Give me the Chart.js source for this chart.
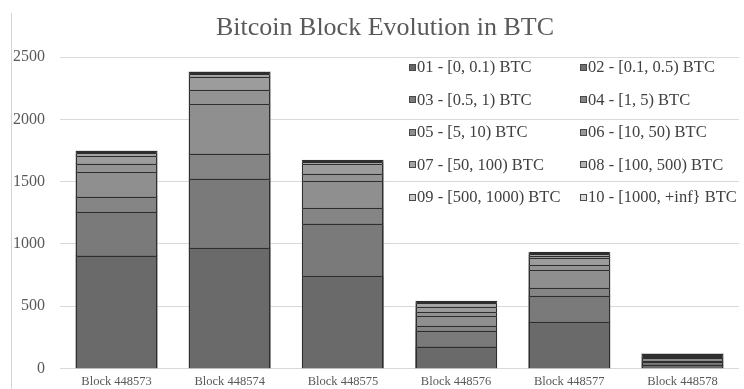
<!DOCTYPE html>
<html>
<head>
<meta charset="utf-8">
<script src="https://cdn.jsdelivr.net/npm/chart.js@4/dist/chart.umd.min.js"></script>
<style>
  html, body { margin: 0; padding: 0; background: #ffffff; }
  #wrap { position: relative; width: 744px; height: 389px; overflow: hidden; }
  #frame { position: absolute; left: 11px; top: 13px; bottom: 0; border-left: 1px solid #d4d4d4; }
  #title {
    position: absolute; left: 26px; right: 0; top: 11px;
    text-align: center; font-family: "Liberation Serif", "Times New Roman", serif;
    font-size: 26px; color: #595959; line-height: 32px;
  }
  #legend {
    position: absolute; left: 409px; top: 51px;
    display: grid; grid-template-columns: 171px 170px; grid-auto-rows: 32.5px;
    font-family: "Liberation Serif", "Times New Roman", serif; font-size: 16.5px; color: #404040;
  }
  .item { display: flex; align-items: center; white-space: nowrap; }
  .box { width: 5px; height: 5px; border: 1px solid #4a4a4a; margin-right: 1px; flex: none; }
  canvas { position: absolute; left: 0; top: 0; }
</style>
</head>
<body>
<div id="wrap">
  <canvas id="chart" width="744" height="389"></canvas>
  <div id="frame"></div>
  <div id="title">Bitcoin Block Evolution in BTC</div>
  <div id="legend"></div>
</div>
<script>
// Blocks on the x axis
const blocks = ['Block 448573', 'Block 448574', 'Block 448575', 'Block 448576', 'Block 448577', 'Block 448578'];

// Output value ranges (one stacked series each)
const ranges = [
  '01 - [0, 0.1) BTC', '02 - [0.1, 0.5) BTC', '03 - [0.5, 1) BTC', '04 - [1, 5) BTC',
  '05 - [5, 10) BTC', '06 - [10, 50) BTC', '07 - [50, 100) BTC', '08 - [100, 500) BTC',
  '09 - [500, 1000) BTC', '10 - [1000, +inf} BTC'
];

// Values per range, one entry per block
const r01 = [904, 965, 741, 175, 371, 28];
const r02 = [353, 557, 420, 126, 209, 22];
const r03 = [121, 203, 126, 40, 67, 9];
const r04 = [198, 397, 217, 83, 142, 22];
const r05 = [69, 113, 58, 27, 42, 8];
const r06 = [62, 104, 78, 45, 59, 14];
const r07 = [22, 26, 16, 28, 14, 5];
const r08 = [10, 10, 9, 10, 18, 6];
const r09 = [4, 5, 5, 4, 8, 3];
const r10 = [2, 2, 2, 2, 3, 1];

// Y axis ticks
const yTicks = [0, 500, 1000, 1500, 2000, 2500];

const seriesValues = [r01, r02, r03, r04, r05, r06, r07, r08, r09, r10];
const shades = ['#6a6a6a', '#7a7a7a', '#858585', '#8f8f8f', '#939393', '#9c9c9c', '#a5a5a5', '#b0b0b0', '#c8c8c8', '#d8d8d8'];
const swatches = ['#666666', '#717171', '#7b7b7b', '#858585', '#8f8f8f', '#999999', '#a3a3a3', '#b3b3b3', '#cacaca', '#dcdcdc'];

const serif = '"Liberation Serif", "Times New Roman", serif';

const datasets = ranges.map((label, i) => ({
  label: label,
  data: seriesValues[i],
  backgroundColor: shades[i],
  borderWidth: 0,
  inflateAmount: 0.5,
  categoryPercentage: 1.0,
  barPercentage: 0.716
}));

// Crisp dark outlines on every stacked segment (top edge and sides)
const segmentOutlines = {
  id: 'segmentOutlines',
  afterDatasetsDraw(chart) {
    const ctx = chart.ctx;
    ctx.save();
    ctx.strokeStyle = '#2e2e2e';
    ctx.lineWidth = 1;
    chart.data.datasets.forEach((ds, i) => {
      const meta = chart.getDatasetMeta(i);
      meta.data.forEach((bar) => {
        const p = bar.getProps(['x', 'y', 'base', 'width'], true);
        const l = Math.round(p.x - p.width / 2) + 0.5;
        const r = Math.round(p.x + p.width / 2) - 0.5;
        const t = Math.round(p.y) + 0.5;
        const b = Math.round(p.base);
        ctx.beginPath();
        ctx.moveTo(l, b);
        ctx.lineTo(l, t);
        ctx.lineTo(r, t);
        ctx.lineTo(r, b);
        ctx.stroke();
      });
    });
    ctx.restore();
  }
};

const chart = new Chart(document.getElementById('chart'), {
  type: 'bar',
  data: { labels: blocks, datasets: datasets },
  plugins: [segmentOutlines],
  options: {
    responsive: false,
    animation: false,
    events: [],
    layout: { padding: { top: 57, left: 13, right: 5, bottom: 0 } },
    plugins: { legend: { display: false }, title: { display: false }, tooltip: { enabled: false } },
    scales: {
      x: {
        stacked: true,
        grid: { display: false, drawTicks: false },
        border: { display: false },
        ticks: { color: '#595959', font: { family: serif, size: 12.5 }, padding: 6, maxRotation: 0 },
        afterFit: (s) => { s.height = 20.5; }
      },
      y: {
        stacked: true,
        min: yTicks[0],
        max: yTicks[yTicks.length - 1],
        afterBuildTicks: (s) => { s.ticks = yTicks.map(v => ({ value: v })); },
        grid: { color: '#d9d9d9', lineWidth: 1, drawTicks: false },
        border: { display: false },
        ticks: { color: '#595959', font: { family: serif, size: 16 }, padding: 15, callback: (v) => String(v) },
        afterFit: (s) => { s.width = 47; s.paddingTop = 0; s.paddingBottom = 0; }
      }
    }
  }
});

// Two-column legend built from the chart's datasets
const legend = document.getElementById('legend');
chart.data.datasets.forEach((ds, i) => {
  const item = document.createElement('div');
  item.className = 'item';
  const box = document.createElement('span');
  box.className = 'box';
  box.style.background = swatches[i];
  const txt = document.createElement('span');
  txt.textContent = ds.label;
  item.appendChild(box);
  item.appendChild(txt);
  legend.appendChild(item);
});
</script>
</body>
</html>
